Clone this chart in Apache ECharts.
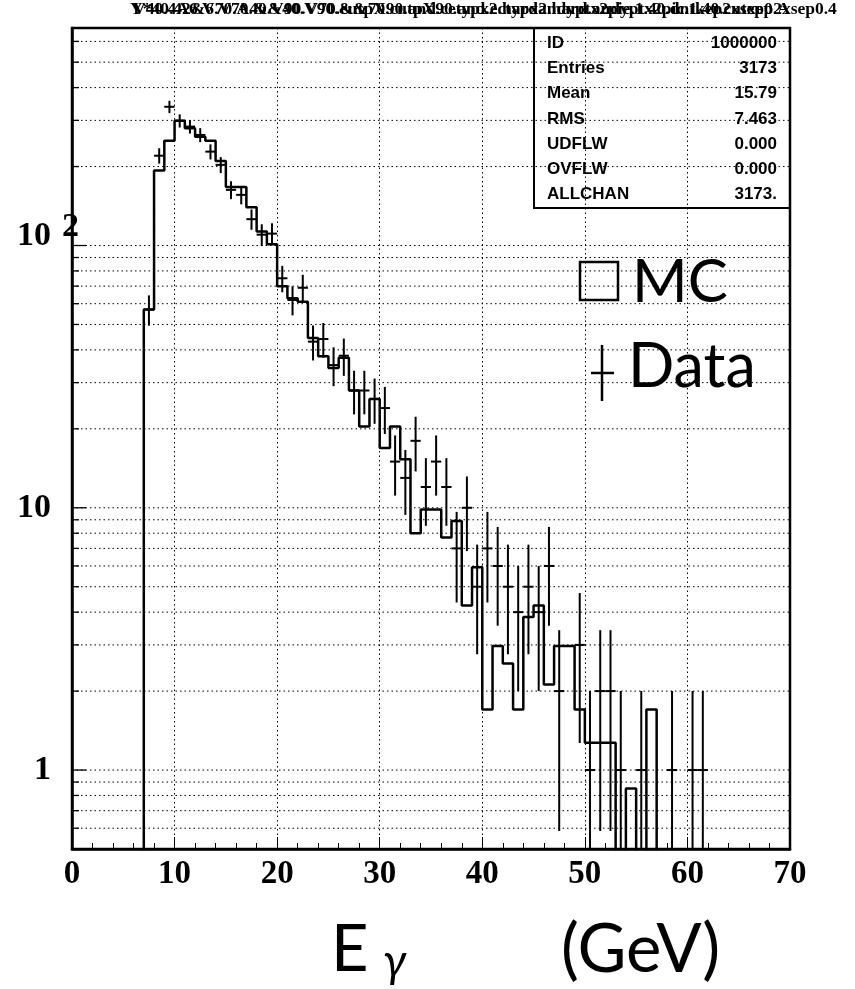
<!DOCTYPE html>
<html><head><meta charset="utf-8">
<script src="https://cdn.jsdelivr.net/npm/echarts@6/dist/echarts.min.js"></script>
<style>html,body{margin:0;padding:0;background:#fff}#c{width:855px;height:989px}</style>
</head><body><div id="c"></div>
<script>
// ---- data (1 GeV bins from 0 to 70) ----
const binEdgesStart = 0;
const binWidth = 1;
const mcCounts = [
  0,0,0,0,0,0,0,
  57,193,251,299,280,260,251,210,167,167,
  140,113,101,70,63,61,44.4,37.8,34.1,37.3,
  28,20.4,26,16.9,20.4,15.3,8.0,9.85,9.85,7.7,
  8.9,4.24,5.93,1.70,2.97,2.55,1.70,3.83,4.24,2.12,
  2.97,2.97,1.70,1.27,1.27,1.27,0,0.85,0,1.70,
  0,0,0,0,0,0,0,0,0,0,0,0,0
];
const dataCounts = [
  0,0,0,0,0,0,0,
  57,220,338,299,284,264,228,203,163,156,
  126,110,111,75,62,69,43,44,35,38,
  28,28,26,24,15,13,18,12,15,12,
  7,10,5,7,6,5,4,5,4,6,
  2,0,3,1,2,2,1,0,1,0,
  0,1,0,1,1,0,0,0,0,0,0,0,0
];
const xTickLabels = ['0','10','20','30','40','50','60','70'];
const yMajorTicks = [1, 10, 100];
const yMinorTicks = [0.6,0.7,0.8,0.9, 2,3,4,5,6,7,8,9, 20,30,40,50,60,70,80,90, 200,300,400,500,600];
const statNames = ['ID','Entries','Mean','RMS','UDFLW','OVFLW','ALLCHAN'];
const statValues = ['1000000','3173','15.79','7.463','0.000','0.000','3173.'];

const FLOOR = 1e-3; // stand-in for empty bins on the log axis (drawn below the frame, clipped)

// ---- build series data ----
const mcLine = [];
for (let i = 0; i < mcCounts.length; i++) {
  const v = mcCounts[i];
  mcLine.push([binEdgesStart + i * binWidth, v > 0 ? v : FLOOR]);
}
mcLine.push([binEdgesStart + mcCounts.length * binWidth, FLOOR]);

const dataPts = [];
dataCounts.forEach((n, i) => {
  if (n > 0) dataPts.push([binEdgesStart + (i + 0.5) * binWidth, n]);
});

const yTickData = yMajorTicks.map(v => [0, v, 1]).concat(yMinorTicks.map(v => [0, v, 0]));

const SERIF = '"Liberation Serif","Times New Roman",serif';
const SANS = '"Liberation Sans",Arial,sans-serif';
const HUM = 'Lato,"Open Sans",sans-serif';

const chart = echarts.init(document.getElementById('c'), null, {renderer: 'canvas'});

const option = {
  animation: false,
  backgroundColor: '#fff',
  grid: {left: 72, right: 65, top: 28, bottom: 140, show: true, borderColor: '#000', borderWidth: 2.5, backgroundColor: 'transparent'},
  xAxis: {
    type: 'value', min: 0, max: 70, interval: 10,
    axisLine: {show: true, lineStyle: {color: '#000', width: 2.5}},
    axisTick: {show: true, inside: true, length: 12, lineStyle: {color: '#000', width: 1}},
    minorTick: {show: true, splitNumber: 5, length: 6, lineStyle: {color: '#000', width: 1}},
    axisLabel: {
      margin: 9, color: '#000', fontFamily: SERIF, fontWeight: 'bold', fontSize: 33,
      formatter: v => xTickLabels[Math.round(v / 10)] || ''
    },
    splitLine: {show: true, lineStyle: {color: '#000', width: 1, type: [1.5, 3]}}
  },
  yAxis: {
    type: 'log', min: 0.5, max: 675, logBase: 10,
    axisLine: {show: true, lineStyle: {color: '#000', width: 2.5}},
    axisTick: {show: false},
    splitLine: {show: false},
    axisLabel: {
      margin: 21, color: '#000', fontFamily: SERIF, fontWeight: 'bold', fontSize: 34,
      showMinLabel: false, showMaxLabel: false,
      formatter: v => {
        if (Math.abs(v - 100) < 1e-6) return '{a|10}';
        if (Math.abs(v - 10) < 1e-6) return '10';
        if (Math.abs(v - 1) < 1e-6) return '1';
        return '';
      },
      rich: {a: {fontFamily: SERIF, fontWeight: 'bold', fontSize: 34, color: '#000', padding: [0, 0, 18, 0]}}
    }
  },
  series: [
    {
      // y grid lines and ticks at 1..9 x decade
      type: 'custom', silent: true, z: 1,
      encode: {x: 0, y: 1},
      data: yTickData,
      renderItem: (params, api) => {
        const v = api.value(1), major = api.value(2) === 1;
        const p0 = api.coord([0, v]);
        const p1 = api.coord([70, v]);
        return {type: 'group', children: [
          {type: 'line', shape: {x1: p0[0], y1: p0[1], x2: p1[0], y2: p1[1]},
           style: {stroke: '#000', lineWidth: 1, lineDash: [1.5, 3]}},
          {type: 'line', shape: {x1: p0[0], y1: p0[1], x2: p0[0] + (major ? 14 : 7), y2: p0[1]},
           style: {stroke: '#000', lineWidth: 1.3}}
        ]};
      }
    },
    {
      name: 'MC', type: 'line', step: 'end', data: mcLine, symbol: 'none', clip: true, z: 3,
      lineStyle: {color: '#000', width: 2.5}
    },
    {
      name: 'Data', type: 'custom', z: 4,
      encode: {x: 0, y: 1},
      data: dataPts,
      renderItem: (params, api) => {
        const x = api.value(0), n = api.value(1);
        const e = Math.sqrt(n);
        const lo = Math.max(n - e, FLOOR);
        const pl = api.coord([x - 0.5, n]);
        const pr = api.coord([x + 0.5, n]);
        const pt = api.coord([x, n + e]);
        const pb = api.coord([x, lo]);
        const cs = params.coordSys;
        return {type: 'group',
          clipPath: {type: 'rect', shape: {x: cs.x, y: cs.y, width: cs.width, height: cs.height}},
          children: [
            {type: 'line', shape: {x1: pl[0], y1: pl[1], x2: pr[0], y2: pr[1]}, style: {stroke: '#000', lineWidth: 2}},
            {type: 'line', shape: {x1: pt[0], y1: pt[1], x2: pb[0], y2: pb[1]}, style: {stroke: '#000', lineWidth: 2}}
          ]};
      }
    }
  ]
};
chart.setOption(option);

// ---- annotations (stats box, legend, titles) ----
const p100 = chart.convertToPixel({gridIndex: 0}, [0, 100]);
const graphics = [];
// garbled overlapping title
graphics.push({type: 'text', left: 130, top: 0, z: 10,
  style: {text: 'Y*40.42&6.V70.&&40.V90.&&70.cutpX90.and.ectypx2.hard.andyptx2pic.1.40.cutxep2xsep0.4', fontFamily: SERIF, fontWeight: 'bold', fontSize: 17.5, fill: '#000'}});
graphics.push({type: 'text', left: 133, top: 0, z: 10,
  style: {text: 'V40.4A6.V70.A40.V90.V70.eutpX90.and.cetypx2.hardandyptx2pie.1.40.dntkep2xsep0.A', fontFamily: SERIF, fontWeight: 'bold', fontSize: 17.5, fill: '#000'}});
// superscript 2 for 10^2
graphics.push({type: 'text', x: 62, y: p100[1] - 18, z: 10,
  style: {text: '2', fontFamily: SERIF, fontWeight: 'bold', fontSize: 34, fill: '#000', verticalAlign: 'middle', align: 'left'}});
// stats box
graphics.push({type: 'rect', shape: {x: 534, y: 28, width: 256, height: 180}, z: 10,
  style: {fill: 'transparent', stroke: '#000', lineWidth: 2}});
statNames.forEach((s, i) => {
  const yy = 43 + i * 25.3;
  graphics.push({type: 'text', x: 547, y: yy, z: 11,
    style: {text: s, fontFamily: SANS, fontWeight: 'bold', fontSize: 17, fill: '#000', verticalAlign: 'middle', align: 'left'}});
  graphics.push({type: 'text', x: 777, y: yy, z: 11,
    style: {text: statValues[i], fontFamily: SANS, fontWeight: 'bold', fontSize: 17, fill: '#000', verticalAlign: 'middle', align: 'right'}});
});
// legend
graphics.push({type: 'rect', shape: {x: 580, y: 262, width: 38, height: 38}, z: 10,
  style: {fill: 'transparent', stroke: '#000', lineWidth: 2.5}});
graphics.push({type: 'text', x: 632, y: 283, z: 10,
  style: {text: 'MC', fontFamily: HUM, fontSize: 60, fill: '#000', verticalAlign: 'middle', align: 'left'}});
graphics.push({type: 'line', shape: {x1: 602, y1: 345, x2: 602, y2: 401}, z: 10, style: {stroke: '#000', lineWidth: 2.5}});
graphics.push({type: 'line', shape: {x1: 591, y1: 373, x2: 614, y2: 373}, z: 10, style: {stroke: '#000', lineWidth: 2.5}});
graphics.push({type: 'text', x: 628, y: 367, z: 10,
  style: {text: 'Data', fontFamily: HUM, fontSize: 61, fill: '#000', verticalAlign: 'middle', align: 'left'}});
// x-axis title
graphics.push({type: 'text', x: 331, y: 950, z: 10,
  style: {text: 'E', fontFamily: HUM, fontSize: 65, fill: '#000', verticalAlign: 'middle', align: 'left'}});
graphics.push({type: 'text', x: 383, y: 962, z: 10,
  style: {text: 'γ', fontFamily: HUM, fontStyle: 'italic', fontSize: 46, fill: '#000', verticalAlign: 'middle', align: 'left'}});
graphics.push({type: 'text', x: 561, y: 950, z: 10,
  style: {text: '(GeV)', fontFamily: HUM, fontSize: 67, fill: '#000', verticalAlign: 'middle', align: 'left'}});

chart.setOption({graphic: graphics});
</script>
</body></html>
